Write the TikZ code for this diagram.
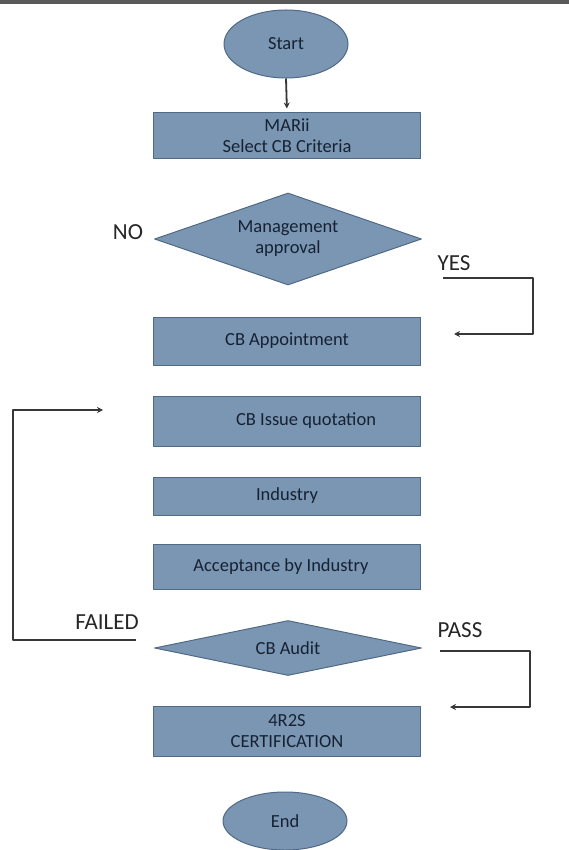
\documentclass[tikz,border=0pt]{standalone}
\usepackage{fontspec}
\setmainfont{Carlito}
\usetikzlibrary{shapes.geometric,arrows.meta}
\definecolor{boxfill}{RGB}{122,150,178}
\definecolor{boxline}{RGB}{80,106,134}
\definecolor{boxtext}{RGB}{22,34,52}
\definecolor{linegray}{RGB}{55,55,55}
\begin{document}
\begin{tikzpicture}[x=1pt,y=-1pt,line join=round,
	box/.style={rectangle,draw=boxline,line width=1pt,fill=boxfill,text=boxtext,minimum width=267pt,inner sep=0pt,align=center,font=\fontsize{18.5}{21}\selectfont},
	term/.style={ellipse,draw=boxline,line width=1pt,fill=boxfill,text=boxtext,inner sep=0pt,font=\fontsize{18.5}{21}\selectfont},
	decision/.style={diamond,draw=boxline,line width=1pt,fill=boxfill,text=boxtext,inner sep=0pt,shape aspect=3,align=center,font=\fontsize{18.5}{21}\selectfont},
	lbl/.style={text=black!85,inner sep=0pt,font=\fontsize{23}{26}\selectfont},
	conn/.style={draw=linegray,line width=1.8pt,-{Stealth[length=6pt,width=6pt]}}]
	\useasboundingbox (0,0) rectangle (569,850);
	\fill[white] (0,0) rectangle (569,850);
	\draw[line width=4pt,gray!70!black] (0,2) -- (569,2);
	% steps
	\node[term,minimum width=124pt,minimum height=68pt] (start) at (286,44) {Start};
	\node[box,minimum height=46pt] (mari) at (287,136) {MARii\\Select CB Criteria};
	\node[decision,minimum width=267pt,minimum height=92pt] (mgmt) at (288,239) {Management\\approval};
	\node[box,minimum height=48pt] (appt) at (287,341) {CB Appointment};
	\node[box,minimum height=50pt] (quote) at (287,421) {\hspace*{38pt}CB Issue quotation};
	\node[box,minimum height=38pt] (ind) at (287,496) {Industry};
	\node[box,minimum height=45pt] (accept) at (287,567) {Acceptance by Industry\hspace*{12pt}};
	\node[decision,minimum width=267pt,minimum height=55pt] (audit) at (288,648) {CB Audit};
	\node[box,minimum height=50pt] (cert) at (287,731) {4R2S\\CERTIFICATION};
	\node[term,minimum width=124pt,minimum height=58pt] (end) at (285,821) {End};
	% labels
	\node[lbl] (no) at (128,232) {NO};
	\node[lbl] (yes) at (454,263) {YES};
	\node[lbl] (failed) at (107,622) {FAILED};
	\node[lbl] (pass) at (460,630) {PASS};
	% connectors
	\coordinate (yesA) at (443,278);
	\coordinate (yesB) at (454,334);
	\coordinate (failA) at (136,640);
	\coordinate (failB) at (103,410);
	\coordinate (passA) at (440,651);
	\coordinate (passB) at (450,707);
	\draw[conn,shorten >=4pt] (start.south) -- (mari.north);
	\draw[conn] (yesA) -- ++(90,0) |- (yesB);
	\draw[conn] (failA) -- ++(-123,0) |- (failB);
	\draw[conn] (passA) -- ++(90,0) |- (passB);
\end{tikzpicture}
\end{document}
